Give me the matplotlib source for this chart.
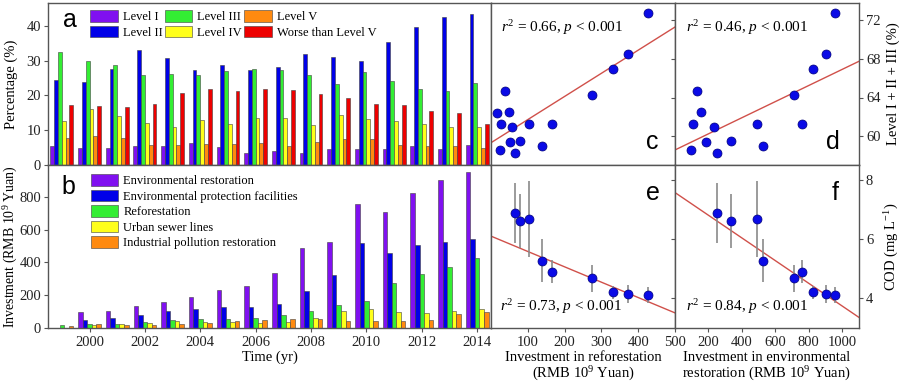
import numpy as np
import matplotlib
matplotlib.use('Agg')
import matplotlib.pyplot as plt

# ---------------- data ----------------
years = np.arange(1999, 2015)

level_I = [5.5, 4.8, 4.9, 5.6, 5.6, 6.2, 5.1, 3.5, 4.0, 3.5, 4.6, 4.6, 4.6, 5.4, 4.6, 5.8]
level_II = [24.5, 24.0, 27.6, 33.1, 30.7, 27.2, 28.7, 27.2, 28.2, 31.8, 31.2, 30.0, 35.5, 39.7, 42.5, 43.5]
level_III = [32.4, 29.8, 28.8, 26.0, 26.2, 26.0, 27.1, 27.5, 27.3, 26.0, 23.2, 26.7, 24.2, 21.9, 21.4, 23.5]
level_IV = [12.6, 16.1, 14.2, 12.2, 10.9, 12.9, 11.8, 13.4, 13.5, 11.4, 14.5, 13.1, 12.8, 11.8, 10.8, 10.9]
level_V = [7.8, 8.2, 7.8, 5.7, 5.8, 6.0, 5.9, 6.3, 5.5, 6.7, 7.4, 7.6, 5.8, 5.6, 5.6, 4.8]
worse_V = [17.2, 17.0, 16.6, 17.5, 20.6, 21.9, 21.3, 21.9, 21.7, 20.5, 19.3, 17.6, 17.2, 15.6, 14.9, 11.8]
level_names = ['Level I', 'Level II', 'Level III', 'Level IV', 'Level V', 'Worse than Level V']

env_restoration = [0, 98, 106, 132, 158, 188, 235, 254, 335, 490, 524, 758, 710, 824, 901, 955]
env_facilities = [0, 51, 59, 80, 106, 114, 129, 131, 145, 224, 324, 518, 455, 506, 524, 545]
reforestation = [16, 24, 26, 38, 48, 52, 57, 64, 80, 102, 138, 166, 274, 331, 372, 426]
sewer_lines = [0, 16, 27, 31, 41, 39, 37, 31, 37, 63, 104, 118, 98, 92, 106, 117]
industrial = [12, 24, 16, 20, 24, 33, 45, 49, 55, 55, 45, 41, 43, 51, 88, 96]
invest_names = ['Environmental restoration', 'Environmental protection facilities',
                'Reforestation', 'Urban sewer lines', 'Industrial pollution restoration']

cod_years = [2006, 2007, 2008, 2009, 2010, 2011, 2012, 2013, 2014]
cod = [6.88, 6.61, 6.68, 5.27, 4.90, 4.68, 4.20, 4.15, 4.11]
cod_err = [1.02, 0.90, 1.27, 0.72, 0.38, 0.46, 0.22, 0.31, 0.26]

# regression lines (slope, intercept) as shown in the panels
fit_c = (0.0240, 59.31)
fit_d = (0.00836, 58.56)
fit_e = (-0.00518, 6.10)
fit_f = (-0.00383, 7.57)
stats_c = r'$r^2$ = 0.66, $p$ < 0.001'
stats_d = r'$r^2$ = 0.46, $p$ < 0.001'
stats_e = r'$r^2$ = 0.73, $p$ < 0.001'
stats_f = r'$r^2$ = 0.84, $p$ < 0.001'

# ---------------- style ----------------
plt.rcParams['font.family'] = ['Liberation Serif', 'DejaVu Serif']
plt.rcParams['mathtext.fontset'] = 'custom'
plt.rcParams['mathtext.rm'] = 'Liberation Serif'
plt.rcParams['mathtext.it'] = 'Liberation Serif:italic'
plt.rcParams['axes.edgecolor'] = '#555555'
plt.rcParams['axes.linewidth'] = 1.0
for k in ('xtick', 'ytick'):
    plt.rcParams[k + '.color'] = '#555555'
    plt.rcParams[k + '.labelcolor'] = '#222222'
    plt.rcParams[k + '.direction'] = 'out'
    plt.rcParams[k + '.major.size'] = 3
    plt.rcParams[k + '.major.width'] = 0.8
    plt.rcParams[k + '.labelsize'] = 10.5
    plt.rcParams[k + '.major.pad'] = 2

lev_colors = ['#8010F0', '#0000E8', '#33EE33', '#FFFF1A', '#FF8A10', '#EE0000']
inv_colors = ['#8010F0', '#0000E8', '#33EE33', '#FFFF1A', '#FF8A10']
edge = '#404040'
pt_color = '#0A0AE6'
line_color = '#D0504A'
lab_fs = 10.5
letter_kw = dict(family='Liberation Sans', fontsize=18, ha='center', va='center')

W, H = 900, 387
fig = plt.figure(figsize=(9, 3.87), dpi=100)


def ax_px(l, t, r, b):
    return fig.add_axes([l / W, 1 - b / H, (r - l) / W, (b - t) / H])


ax_a = ax_px(48, 3, 491, 165)
ax_b = ax_px(48, 165, 491, 328)
ax_c = ax_px(491, 3, 675, 165)
ax_d = ax_px(675, 3, 859, 165)
ax_e = ax_px(491, 165, 675, 328)
ax_f = ax_px(675, 165, 859, 328)

# ---------------- panel a ----------------
w_a = 0.138
for i, (vals, name, col) in enumerate(zip(
        [level_I, level_II, level_III, level_IV, level_V, worse_V], level_names, lev_colors)):
    ax_a.bar(years + (i - 2.5) * w_a, vals, w_a, color=col, edgecolor=edge, linewidth=0.4, label=name)
ax_a.set_xlim(1998.5, 2014.5)
ax_a.set_ylim(0, 46.6)
ax_a.set_yticks([0, 10, 20, 30, 40])
ax_a.tick_params(axis='x', bottom=False, labelbottom=False)
ax_a.set_ylabel('Percentage (%)', fontsize=lab_fs)
ax_a.yaxis.set_label_coords(-0.068, 0.5)
ax_a.legend(ncol=3, loc='upper left', bbox_to_anchor=(0.095, 0.955), frameon=False, fontsize=9,
            handlelength=2.2, handleheight=1.05, handletextpad=0.4, columnspacing=0.2,
            labelspacing=0.2, borderpad=0, borderaxespad=0)
ax_a.text(0.05, 0.895, 'a', transform=ax_a.transAxes, **letter_kw)

# ---------------- panel b ----------------
w_b = 0.164
for i, (vals, name, col) in enumerate(zip(
        [env_restoration, env_facilities, reforestation, sewer_lines, industrial], invest_names, inv_colors)):
    ax_b.bar(years + (i - 2) * w_b, vals, w_b, color=col, edgecolor=edge, linewidth=0.4, label=name)
ax_b.set_xlim(1998.5, 2014.5)
ax_b.set_ylim(0, 995)
ax_b.set_yticks([0, 200, 400, 600, 800])
ax_b.set_xticks(np.arange(2000, 2015, 2))
ax_b.tick_params(axis='x', pad=3)
ax_b.set_xlabel('Time (yr)', fontsize=lab_fs, labelpad=1)
ax_b.set_ylabel('Investment (RMB 10$^9$ Yuan)', fontsize=10)
ax_b.yaxis.set_label_coords(-0.064, 0.5)
ax_b.legend(loc='upper left', bbox_to_anchor=(0.097, 0.945), frameon=False, fontsize=9,
            handlelength=2.2, handleheight=1.05, handletextpad=0.4,
            labelspacing=0.2, borderpad=0, borderaxespad=0)
ax_b.text(0.045, 0.865, 'b', transform=ax_b.transAxes, **letter_kw)

# ---------------- scatter panels ----------------
lev123 = np.array(level_I) + np.array(level_II) + np.array(level_III)
refor = np.array(reforestation, dtype=float)
envr = np.array(env_restoration, dtype=float)
has_env = envr > 0
sel = np.isin(years, cod_years)


def fit_line(ax, fit):
    xs = np.array(ax.get_xlim())
    ax.plot(xs, fit[0] * xs + fit[1], color=line_color, lw=1.0, zorder=1)
    ax.set_xlim(xs)


sc_kw = dict(s=42, color=pt_color, edgecolor='#00007A', linewidth=0.5, zorder=3)
eb_kw = dict(fmt='none', ecolor='#8A8A8A', elinewidth=1.2, capsize=0, zorder=2)

# c
ax_c.set_xlim(0, 500)
ax_c.set_ylim(57, 73.8)
ax_c.scatter(refor, lev123, **sc_kw)
fit_line(ax_c, fit_c)
ax_c.set_xticks(np.arange(0, 501, 100))
ax_c.tick_params(labelbottom=False, left=False, labelleft=False)
ax_c.text(0.055, 0.846, stats_c, transform=ax_c.transAxes, fontsize=11, va='center')
ax_c.text(0.875, 0.14, 'c', transform=ax_c.transAxes, **letter_kw)

# d
ax_d.set_xlim(0, 1100)
ax_d.set_ylim(57, 73.8)
ax_d.scatter(envr[has_env], lev123[has_env], **sc_kw)
fit_line(ax_d, fit_d)
ax_d.set_xticks(np.arange(0, 1001, 200))
ax_d.set_yticks([60, 64, 68, 72])
ax_d.tick_params(labelbottom=False, left=True, labelleft=False, right=True, labelright=True)
ax_d.yaxis.set_label_position('right')
ax_d.set_ylabel('Level I + II + III (%)', fontsize=lab_fs)
ax_d.yaxis.set_label_coords(1.15, 0.5)
ax_d.text(0.06, 0.846, stats_d, transform=ax_d.transAxes, fontsize=11, va='center')
ax_d.text(0.86, 0.14, 'd', transform=ax_d.transAxes, **letter_kw)

# e
ax_e.set_xlim(0, 500)
ax_e.set_ylim(3, 8.5)
ax_e.errorbar(refor[sel], cod, yerr=cod_err, **eb_kw)
ax_e.scatter(refor[sel], cod, **sc_kw)
fit_line(ax_e, fit_e)
ax_e.set_xticks(np.arange(100, 501, 100))
ax_e.tick_params(axis='x', pad=3)
ax_e.tick_params(left=False, labelleft=False)
ax_e.set_xlabel('Investment in reforestation\n(RMB 10$^9$ Yuan)', fontsize=lab_fs, labelpad=1,
                linespacing=1.1)
ax_e.text(0.05, 0.13, stats_e, transform=ax_e.transAxes, fontsize=11, va='center')
ax_e.text(0.88, 0.83, 'e', transform=ax_e.transAxes, **letter_kw)

# f
ax_f.set_xlim(0, 1100)
ax_f.set_ylim(3, 8.5)
ax_f.errorbar(envr[sel], cod, yerr=cod_err, **eb_kw)
ax_f.scatter(envr[sel], cod, **sc_kw)
fit_line(ax_f, fit_f)
ax_f.set_xticks(np.arange(200, 1001, 200))
ax_f.set_yticks([4, 6, 8])
ax_f.tick_params(axis='x', pad=3)
ax_f.tick_params(left=True, labelleft=False, right=True, labelright=True)
ax_f.yaxis.set_label_position('right')
ax_f.set_ylabel('COD (mg L$^{-1}$)', fontsize=lab_fs)
ax_f.yaxis.set_label_coords(1.13, 0.5)
ax_f.set_xlabel('Investment in environmental\nrestoration (RMB 10$^9$ Yuan)', fontsize=lab_fs,
                labelpad=1, linespacing=1.1)
ax_f.text(0.06, 0.13, stats_f, transform=ax_f.transAxes, fontsize=11, va='center')
ax_f.text(0.87, 0.83, 'f', transform=ax_f.transAxes, **letter_kw)

fig.savefig('out.png', dpi=100)
